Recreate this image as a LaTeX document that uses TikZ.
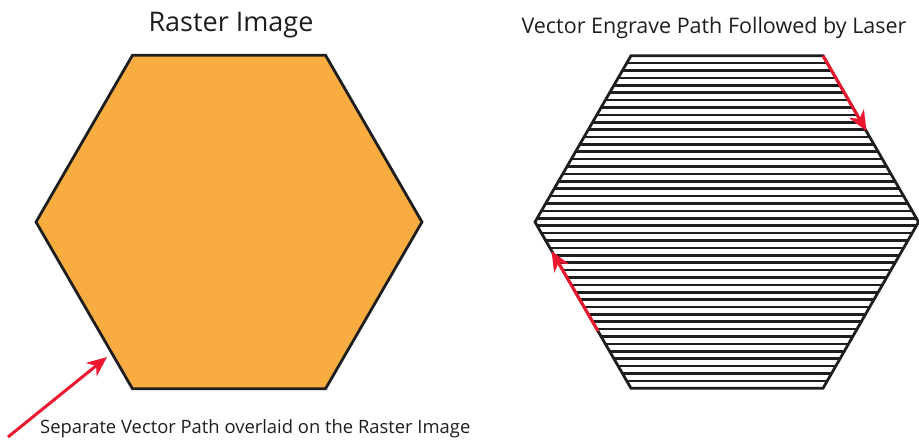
\documentclass[tikz,border=0pt]{standalone}
\usepackage{fontspec}
\setmainfont{Open Sans}
\usetikzlibrary{arrows.meta}
\definecolor{hexorange}{RGB}{249,173,65}
\definecolor{arrowred}{RGB}{236,24,48}
\definecolor{inkgray}{RGB}{30,30,30}
\begin{document}
\begin{tikzpicture}[x=1pt,y=-1pt,
  outline/.style={draw=inkgray,line width=2.8pt,line join=miter},
  hatchline/.style={draw=inkgray,line width=2.6pt},
  redarrow/.style={draw=arrowred,line width=3pt,-{Stealth[length=20pt,width=17pt,inset=6pt]}},
  title/.style={anchor=base,text=inkgray,inner sep=0pt},
  caption/.style={anchor=base west,text=inkgray,inner sep=0pt}]
\useasboundingbox (0,0) rectangle (919,440);
% left hexagon vertices
\coordinate (L0) at (422,222);
\coordinate (L1) at (325.5,55.2);
\coordinate (L2) at (132.5,55.2);
\coordinate (L3) at (36,222);
\coordinate (L4) at (132.5,388.8);
\coordinate (L5) at (325.5,388.8);
% right hexagon vertices
\coordinate (R0) at (918.5,222);
\coordinate (R1) at (823,55.7);
\coordinate (R2) at (631,55.7);
\coordinate (R3) at (535,222);
\coordinate (R4) at (631,388.3);
\coordinate (R5) at (823,388.3);
% left: raster image
\filldraw[fill=hexorange,outline] (L0) -- (L1) -- (L2) -- (L3) -- (L4) -- (L5) -- cycle;
% right: hatched path
\begin{scope}
  \clip (R0) -- (R1) -- (R2) -- (R3) -- (R4) -- (R5) -- cycle;
  \foreach \i in {0,...,45} {
    \draw[hatchline] (530,{55.7+\i*332.6/45}) -- (925,{55.7+\i*332.6/45});
  }
\end{scope}
\draw[outline] (R0) -- (R1) -- (R2) -- (R3) -- (R4) -- (R5) -- cycle;
% red arrows
\coordinate (A1s) at (R1);
\coordinate (A1e) at (866.5,131);
\draw[redarrow] (A1s) -- (A1e);
\coordinate (A2s) at (598,331);
\coordinate (A2e) at (551.5,251);
\draw[redarrow] (A2s) -- (A2e);
\coordinate (A3s) at (8,437);
\coordinate (A3e) at (107,357);
\draw[redarrow] (A3s) -- (A3e);
% texts
\node[title,font=\fontsize{27}{32}\selectfont] (t1) at (231,31) {Raster Image};
\node[title,font=\fontsize{21.5}{26}\selectfont] (t2) at (714,33) {Vector Engrave Path Followed by Laser};
\node[caption,font=\fontsize{18.4}{22}\selectfont] (t3) at (40,433) {Separate Vector Path overlaid on the Raster Image};
\end{tikzpicture}
\end{document}
